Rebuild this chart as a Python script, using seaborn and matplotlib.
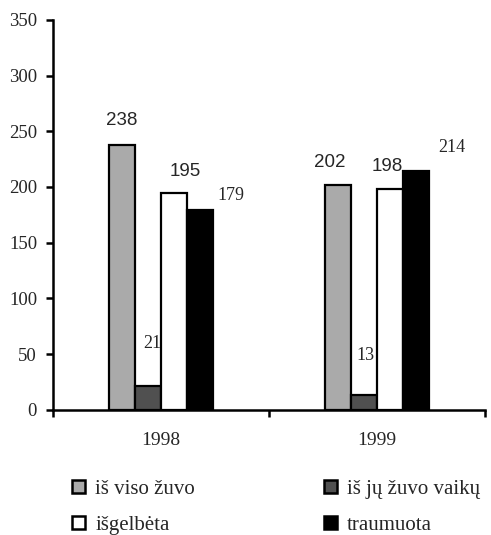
import pandas as pd
import matplotlib.pyplot as plt
import seaborn as sns
from matplotlib.patches import Patch

# Data
years = ['1998', '1999']
series = ['iš viso žuvo', 'iš jų žuvo vaikų', 'išgelbėta', 'traumuota']
viso = [238, 202]
vaikai = [21, 13]
isgelbeta = [195, 198]
traumuota = [179, 214]

df = pd.DataFrame({
    'metai': years * 4,
    'grupe': [s for s in series for _ in years],
    'kiekis': viso + vaikai + isgelbeta + traumuota,
})

colors = {'iš viso žuvo': '#aaaaaa', 'iš jų žuvo vaikų': '#505050',
          'išgelbėta': '#ffffff', 'traumuota': '#000000'}

sns.set_style('white')
plt.rcParams['font.family'] = ['Liberation Serif', 'DejaVu Serif']

fig = plt.figure(figsize=(4.91, 5.35), dpi=100)
ax = fig.add_axes([0.108, 0.234, 0.88, 0.729])

sns.barplot(data=df, x='metai', y='kiekis', hue='grupe', hue_order=series,
            order=years, palette=colors, width=0.48, edgecolor='black',
            linewidth=1.6, ax=ax, legend=False)

ax.set_xlim(-0.5, 1.5)
ax.set_ylim(0, 350)
ax.set_yticks(range(0, 351, 50))
ax.set_xlabel('')
ax.set_ylabel('')
ax.set_xticks([0, 1])
ax.set_xticklabels(years)
ax.set_xticks([-0.5, 0.5, 1.5], minor=True)
ax.tick_params(axis='x', which='major', length=0, pad=16, labelsize=14)
ax.tick_params(axis='x', which='minor', bottom=True, length=5, width=1.8,
               direction='out', color='black')
ax.tick_params(axis='y', left=True, length=5, width=1.8, direction='out',
               pad=6.5, labelsize=13.5, color='black')
sns.despine(ax=ax)
for s in ['left', 'bottom']:
    ax.spines[s].set_linewidth(1.8)
    ax.spines[s].set_color('black')

# value labels: (offset x, offset y) in pixels, font family
label_style = {
    ('1998', 'iš viso žuvo'): (0, 24, 'Liberation Sans'),
    ('1998', 'iš jų žuvo vaikų'): (4, 43, 'Liberation Serif'),
    ('1998', 'išgelbėta'): (11, 21, 'Liberation Sans'),
    ('1998', 'traumuota'): (31, 15, 'Liberation Serif'),
    ('1999', 'iš viso žuvo'): (-8, 22, 'Liberation Sans'),
    ('1999', 'iš jų žuvo vaikų'): (1, 40, 'Liberation Serif'),
    ('1999', 'išgelbėta'): (-3, 23, 'Liberation Sans'),
    ('1999', 'traumuota'): (36, 24, 'Liberation Serif'),
}
for cont, name in zip(ax.containers, series):
    for bar, yr in zip(cont, years):
        dx, dy, fam = label_style[(yr, name)]
        ax.annotate(f'{bar.get_height():.0f}',
                    (bar.get_x() + bar.get_width() / 2, bar.get_height()),
                    xytext=(dx, dy), textcoords='offset pixels',
                    ha='center', va='center',
                    fontsize=13.5 if fam == 'Liberation Sans' else 13,
                    family=fam)

handles = [Patch(facecolor=colors[s], edgecolor='black', linewidth=1.8, label=s)
           for s in [series[0], series[2], series[1], series[3]]]
fig.legend(handles=handles, ncol=2, loc='upper left', bbox_to_anchor=(0.126, 0.122),
           frameon=False, fontsize=15, handlelength=0.6, handleheight=0.6,
           handletextpad=0.5, columnspacing=6.2, labelspacing=0.8, borderpad=0)

fig.savefig('out.png', dpi=100)
